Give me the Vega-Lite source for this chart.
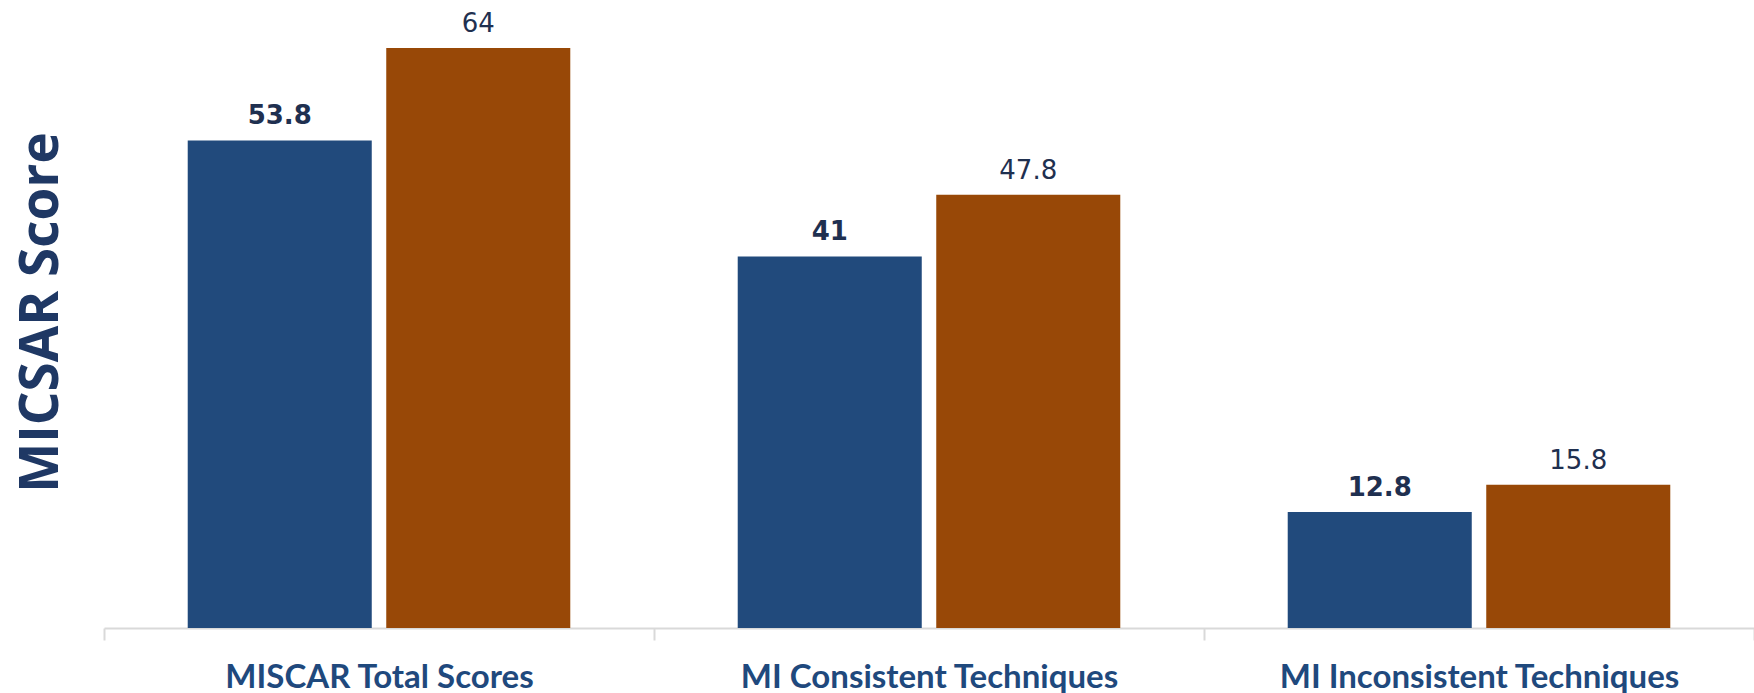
{
  "$schema": "https://vega.github.io/schema/vega-lite/v6.json",
  "width": 1650,
  "height": 628,
  "autosize": {"type": "none"},
  "padding": {"left": 104, "top": 0, "right": 0, "bottom": 65},
  "background": "white",
  "config": {"view": {"stroke": null}},
  "data": {
    "values": [
      {"category": "MISCAR Total Scores", "group": "A", "score": 53.8},
      {"category": "MISCAR Total Scores", "group": "B", "score": 64},
      {"category": "MI Consistent Techniques", "group": "A", "score": 41},
      {"category": "MI Consistent Techniques", "group": "B", "score": 47.8},
      {"category": "MI Inconsistent Techniques", "group": "A", "score": 12.8},
      {"category": "MI Inconsistent Techniques", "group": "B", "score": 15.8}
    ]
  },
  "encoding": {
    "x": {
      "field": "category",
      "type": "nominal",
      "sort": null,
      "scale": {"paddingInner": 0, "paddingOuter": 0},
      "axis": {
        "title": null,
        "labelAngle": 0,
        "labelLimit": 0,
        "tickBand": "extent",
        "domainColor": "#d9d9d9",
        "domainWidth": 2,
        "tickColor": "#d9d9d9",
        "tickWidth": 2,
        "tickSize": 12,
        "labelFont": "Lato",
        "labelFontWeight": "bold",
        "labelFontSize": 33,
        "labelColor": "#1f497d",
        "labelBaseline": "middle",
        "labelPadding": 37
      }
    },
    "xOffset": {
      "field": "group",
      "type": "nominal",
      "scale": {"paddingInner": 0.073, "paddingOuter": 0.4217}
    },
    "y": {
      "field": "score",
      "type": "quantitative",
      "scale": {"domain": [0, 69.3], "nice": false},
      "axis": {
        "title": "MICSAR Score",
        "domain": false,
        "ticks": false,
        "labels": false,
        "grid": false,
        "titleFont": "Open Sans",
        "titleFontWeight": "bold",
        "titleFontSize": 53,
        "titleColor": "#1f3864",
        "titleX": -47,
        "titleY": 312,
        "titleBaseline": "alphabetic",
        "titleAngle": -90,
        "titleAlign": "center"
      }
    }
  },
  "layer": [
    {
      "mark": {"type": "bar"},
      "encoding": {
        "color": {
          "field": "group",
          "type": "nominal",
          "scale": {"domain": ["A", "B"], "range": ["#214a7c", "#984807"]},
          "legend": null
        }
      }
    },
    {
      "transform": [{"filter": "datum.group === 'A'"}],
      "mark": {"type": "text", "font": "DejaVu Sans", "fontWeight": "bold", "fontSize": 26, "color": "#1f3050", "baseline": "alphabetic", "dy": -16},
      "encoding": {"text": {"field": "score", "type": "quantitative"}}
    },
    {
      "transform": [{"filter": "datum.group === 'B'"}],
      "mark": {"type": "text", "font": "DejaVu Sans", "fontWeight": "normal", "fontSize": 26, "color": "#1f3050", "baseline": "alphabetic", "dy": -16},
      "encoding": {"text": {"field": "score", "type": "quantitative"}}
    }
  ]
}
